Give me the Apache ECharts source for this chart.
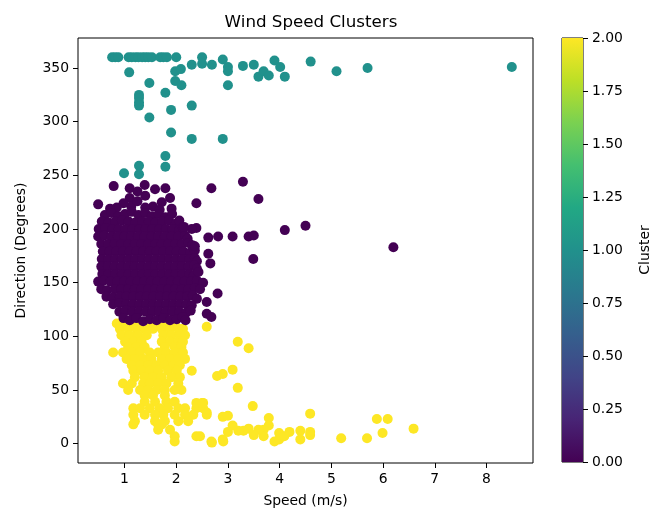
<!DOCTYPE html>
<html>
<head>
  <meta charset="utf-8">
  <style>
    html, body { margin: 0; padding: 0; width: 100%; height: 100%; background: #fff; overflow: hidden; }
    #container { width: 653px; height: 514px; }
  </style>
</head>
<body>
  <div id="container"></div>
  <script src="https://cdn.jsdelivr.net/npm/echarts@6/dist/echarts.min.js"></script>
  <script>
    // [speed (m/s), direction (deg)] per cluster
    var cluster0 = [
      // top fringe
      [0.79,240],[1.10,238],[1.39,241],[1.59,237],[1.79,238],[1.88,229],[1.91,219],[1.10,229],[1.13,221],
      [0.49,223],[1.25,226],[1.40,231],[0.98,224],[1.55,221],[1.72,225],[1.25,235],[0.85,220],[1.40,220],
      [0.72,219],[1.68,218],
      // dense core
      [0.62,213],[0.75,215],[0.88,212],[1.01,214],[1.14,216],[1.27,213],[1.40,215],[1.53,212],[1.66,214],[1.79,211],[1.92,214],
      [0.56,207],[0.69,206],[0.82,207],[0.95,208],[1.08,207],[1.21,206],[1.34,207],[1.47,207],[1.60,206],[1.73,207],[1.86,208],[1.99,205],[2.06,208],
      [0.50,200],[0.63,201],[0.76,200],[0.89,200],[1.02,200],[1.15,200],[1.28,200],[1.41,200],[1.54,200],[1.67,200],[1.80,200],[1.93,200],[2.06,199],[2.13,201],
      [0.49,193],[0.61,194],[0.74,193],[0.87,193],[1.00,193],[1.13,193],[1.26,193],[1.39,193],[1.52,193],[1.65,193],[1.78,193],[1.91,193],[2.04,193],[2.17,194],[2.22,191],
      [0.55,186],[0.68,186],[0.81,186],[0.94,186],[1.07,186],[1.20,186],[1.33,186],[1.46,186],[1.59,186],[1.72,186],[1.85,186],[1.98,186],[2.11,186],[2.24,187],[2.31,185],
      [0.58,179],[0.71,179],[0.84,179],[0.97,179],[1.10,179],[1.23,179],[1.36,179],[1.49,179],[1.62,179],[1.75,179],[1.88,179],[2.01,179],[2.14,179],[2.27,178],[2.36,180],
      [0.56,172],[0.69,172],[0.82,172],[0.95,172],[1.08,172],[1.21,172],[1.34,172],[1.47,172],[1.60,172],[1.73,172],[1.86,172],[1.99,172],[2.12,172],[2.25,172],[2.36,173],[2.40,170],
      [0.55,165],[0.68,165],[0.81,165],[0.94,165],[1.07,165],[1.20,165],[1.33,165],[1.46,165],[1.59,165],[1.72,165],[1.85,165],[1.98,165],[2.11,165],[2.24,165],[2.35,166],[2.40,163],
      [0.57,158],[0.69,158],[0.82,158],[0.95,158],[1.08,158],[1.21,158],[1.34,158],[1.47,158],[1.60,158],[1.73,158],[1.86,158],[1.99,158],[2.12,158],[2.25,158],[2.34,157],
      [0.49,151],[0.60,152],[0.73,151],[0.86,151],[0.99,151],[1.12,151],[1.25,151],[1.38,151],[1.51,151],[1.64,151],[1.77,151],[1.90,151],[2.03,151],[2.16,151],[2.29,151],[2.40,152],
      [0.55,144],[0.66,143],[0.81,144],[0.94,144],[1.07,144],[1.20,144],[1.33,144],[1.46,144],[1.59,144],[1.72,144],[1.85,144],[1.98,144],[2.11,144],[2.24,144],[2.36,145],
      [0.65,137],[0.77,136],[0.91,137],[1.04,137],[1.17,137],[1.30,137],[1.43,137],[1.56,137],[1.69,137],[1.82,137],[1.95,137],[2.08,137],[2.21,137],[2.32,138],[2.40,135],
      [0.78,130],[0.90,131],[1.03,130],[1.16,130],[1.29,130],[1.42,130],[1.55,130],[1.68,130],[1.81,130],[1.94,130],[2.07,130],[2.20,130],[2.30,129],
      [0.90,123],[1.02,124],[1.15,123],[1.28,123],[1.41,123],[1.54,123],[1.67,123],[1.80,123],[1.93,123],[2.06,123],[2.19,122],[2.28,124],
      [0.98,117],[1.10,115],[1.23,117],[1.36,114],[1.49,116],[1.62,115],[1.75,117],[1.88,115],[2.01,116],[2.12,118],[2.18,115],
      // right side outliers
      [2.68,238],[3.29,244],[3.59,228],[2.39,224],[4.50,203],[4.10,199],[3.09,193],[3.40,193],[3.50,194],
      [3.49,172],[2.81,193],[2.62,192],[2.39,201],[2.30,200],[2.15,202],[2.62,177],[2.66,168],[2.36,184],
      [2.52,150],[2.46,144],[2.80,140],[2.59,132],[2.59,121],[2.68,118],[2.43,160],[6.20,183]
    ];

    var cluster1 = [
      [0.76,360],[0.82,360],[0.88,360],[1.08,360],[1.14,360],[1.21,360],[1.27,360],[1.34,360],[1.40,360],
      [1.46,360],[1.53,360],[1.69,360],[1.75,360],[1.82,360],[2.00,360],
      [2.50,360],[2.50,354],[2.30,353],[2.69,353],[2.90,358],[3.00,351],[3.00,347],[3.29,352],[3.50,353],
      [3.90,357],[4.01,351],[4.10,342],[3.59,342],[3.69,347],[3.79,343],[4.60,356],[5.10,347],[5.70,350],[8.49,351],
      [1.09,346],[1.98,347],[2.09,349],[1.98,338],[2.10,334],[1.48,336],[3.00,334],[1.79,327],
      [1.28,325],[1.28,322],[1.28,318],[1.28,315],[2.30,315],[1.48,304],[1.90,311],[1.90,290],
      [2.30,284],[2.90,284],[1.79,268],[1.79,258],[1.28,259],[1.28,251],[0.99,252]
    ];

    var cluster2 = [
      [0.85,112],[1.01,112],[1.17,112],[1.33,112],[1.49,112],[1.65,112],[1.81,112],[1.97,112],
      [0.91,107],[1.07,107],[1.23,107],[1.39,107],[1.55,107],[1.72,107],[1.88,107],[2.04,107],[2.13,107],
      [0.94,101],[1.10,101],[1.26,101],[1.43,101],[1.75,101],[1.91,101],[2.07,101],[2.17,101],
      [1.01,95],[1.17,95],[1.33,95],[1.72,95],[1.88,95],[2.04,95],[2.13,95],
      [1.07,90],[1.23,90],[1.39,90],[1.78,90],[1.97,90],[2.10,90],
      [0.78,85],[0.97,85],[1.14,85],[1.30,85],[1.49,85],[1.65,85],[1.81,85],[1.97,85],[2.13,85],
      [1.04,79],[1.20,79],[1.36,79],[1.52,79],[1.72,79],[1.88,79],[2.04,79],[2.17,79],
      [1.14,73],[1.30,73],[1.46,73],[1.62,73],[1.78,73],[1.94,73],[2.07,73],
      [1.17,68],[1.33,68],[1.49,68],[1.65,68],[1.84,68],[2.01,68],[2.30,68],
      [1.20,62],[1.39,62],[1.55,62],[1.72,62],[1.91,62],[2.07,62],
      [0.97,56],[1.14,56],[1.36,56],[1.49,56],[1.65,56],[1.81,56],[2.04,56],
      [1.07,50],[1.30,50],[1.46,50],[1.62,50],[1.78,50],[1.97,50],[2.10,50],
      [1.39,45],[1.55,45],[1.78,45],
      [1.39,39],[1.59,39],[1.81,39],[1.97,39],
      [1.17,33],[1.30,33],[1.49,33],[1.68,33],[1.84,33],[2.04,33],[2.17,33],[2.39,33],[2.52,33],
      [1.17,27],[1.39,27],[1.59,27],[1.75,27],[1.97,27],[2.17,27],[2.33,27],[2.59,27],
      [1.20,21],[1.59,21],[1.78,21],[2.04,21],[2.23,21],
      [1.17,18],[1.65,18],[1.72,18],
      [1.65,13],[1.88,13],
      [1.97,7],[2.39,7],
      [1.97,2],[2.68,2],[2.91,2],
      // tail to the right
      [2.59,109],[3.19,95],[3.40,89],[2.79,63],[2.90,65],[3.09,69],[3.19,52],[2.52,38],[2.59,29],
      [2.90,25],[3.00,26],[3.48,35],[3.79,24],[4.59,28],[5.88,23],[6.09,23],[6.59,14],[5.99,10],
      [5.69,5],[5.19,5],[4.59,11],[4.59,8],[4.40,12],[4.40,4],[4.19,11],[3.99,10],[3.99,4],[4.09,7],
      [3.90,2],[3.79,17],[3.69,13],[3.69,7],[3.59,13],[3.50,8],[3.40,14],[3.30,12],[3.20,12],[3.09,17],
      [3.00,11],[2.90,4],[2.69,1],[2.46,7],[2.39,38],[2.50,38]
    ];

    var clusterColors = ['#440154', '#21918c', '#fde725'];
    var viridis = ['#440154', '#482475', '#414487', '#355f8d', '#2a788e', '#21918c',
                   '#22a884', '#44bf70', '#7ad151', '#bddf26', '#fde725'];
    var clusterRange = [0, 2];
    var font = 'DejaVu Sans';

    var chart = echarts.init(document.getElementById('container'), null, { renderer: 'canvas' });

    // colorbar gradient, top = max
    var stops = viridis.map(function (c, i) {
      return { offset: 1 - i / (viridis.length - 1), color: c };
    });

    function scatter(data, color) {
      return {
        type: 'scatter',
        xAxisIndex: 0, yAxisIndex: 0,
        data: data,
        symbol: 'circle',
        symbolSize: 10,
        itemStyle: { color: color, opacity: 1 },
        silent: true
      };
    }

    chart.setOption({
      animation: false,
      backgroundColor: '#fff',
      title: {
        text: 'Wind Speed Clusters',
        left: 306, top: 9, textAlign: 'center',
        textStyle: { fontFamily: font, fontSize: 16.7, fontWeight: 'normal', color: '#000' }
      },
      grid: [
        { left: 78, top: 38, width: 455, height: 425, show: true, borderColor: '#000', borderWidth: 1, backgroundColor: 'transparent' },
        { left: 562, top: 38, width: 21, height: 424, show: true, borderColor: '#000', borderWidth: 1, backgroundColor: 'transparent' }
      ],
      xAxis: [
        {
          type: 'value', gridIndex: 0, min: 0.1, max: 8.9, splitNumber: 9,
          name: 'Speed (m/s)', nameLocation: 'middle', nameGap: 31,
          nameTextStyle: { fontFamily: font, fontSize: 13.9, color: '#000' },
          axisLine: { show: false, onZero: false },
          axisTick: { show: true, length: 5, lineStyle: { color: '#000' } },
          axisLabel: {
            fontFamily: font, fontSize: 13.9, color: '#000', margin: 9,
            showMinLabel: false, showMaxLabel: false,
            formatter: function (v) { return Number.isInteger(v) ? String(v) : ''; }
          },
          splitLine: { show: false }
        },
        { type: 'category', gridIndex: 1, data: [''], show: false }
      ],
      yAxis: [
        {
          type: 'value', gridIndex: 0, min: -18, max: 378, splitNumber: 8,
          name: 'Direction (Degrees)', nameLocation: 'middle', nameGap: 50,
          nameTextStyle: { fontFamily: font, fontSize: 13.9, color: '#000' },
          axisLine: { show: false, onZero: false },
          axisTick: { show: true, length: 5, lineStyle: { color: '#000' } },
          axisLabel: {
            fontFamily: font, fontSize: 13.9, color: '#000', margin: 9,
            showMinLabel: false, showMaxLabel: false,
            formatter: function (v) { return v % 50 === 0 ? String(v) : ''; }
          },
          splitLine: { show: false }
        },
        {
          type: 'value', gridIndex: 1, position: 'right',
          min: clusterRange[0], max: clusterRange[1], interval: 0.25,
          name: 'Cluster', nameLocation: 'middle', nameGap: 55, nameRotate: 90,
          nameTextStyle: { fontFamily: font, fontSize: 13.9, color: '#000' },
          axisLine: { show: false },
          axisTick: { show: true, length: 5, lineStyle: { color: '#000' } },
          axisLabel: {
            fontFamily: font, fontSize: 13.9, color: '#000', margin: 9,
            formatter: function (v) { return v.toFixed(2); }
          },
          splitLine: { show: false }
        }
      ],
      series: [
        scatter(cluster2, clusterColors[2]),
        scatter(cluster0, clusterColors[0]),
        scatter(cluster1, clusterColors[1]),
        {
          type: 'bar', xAxisIndex: 1, yAxisIndex: 1,
          data: [clusterRange[1]], barWidth: '100%', silent: true,
          itemStyle: { color: new echarts.graphic.LinearGradient(0, 0, 0, 1, stops) }
        }
      ]
    });
  </script>
</body>
</html>
